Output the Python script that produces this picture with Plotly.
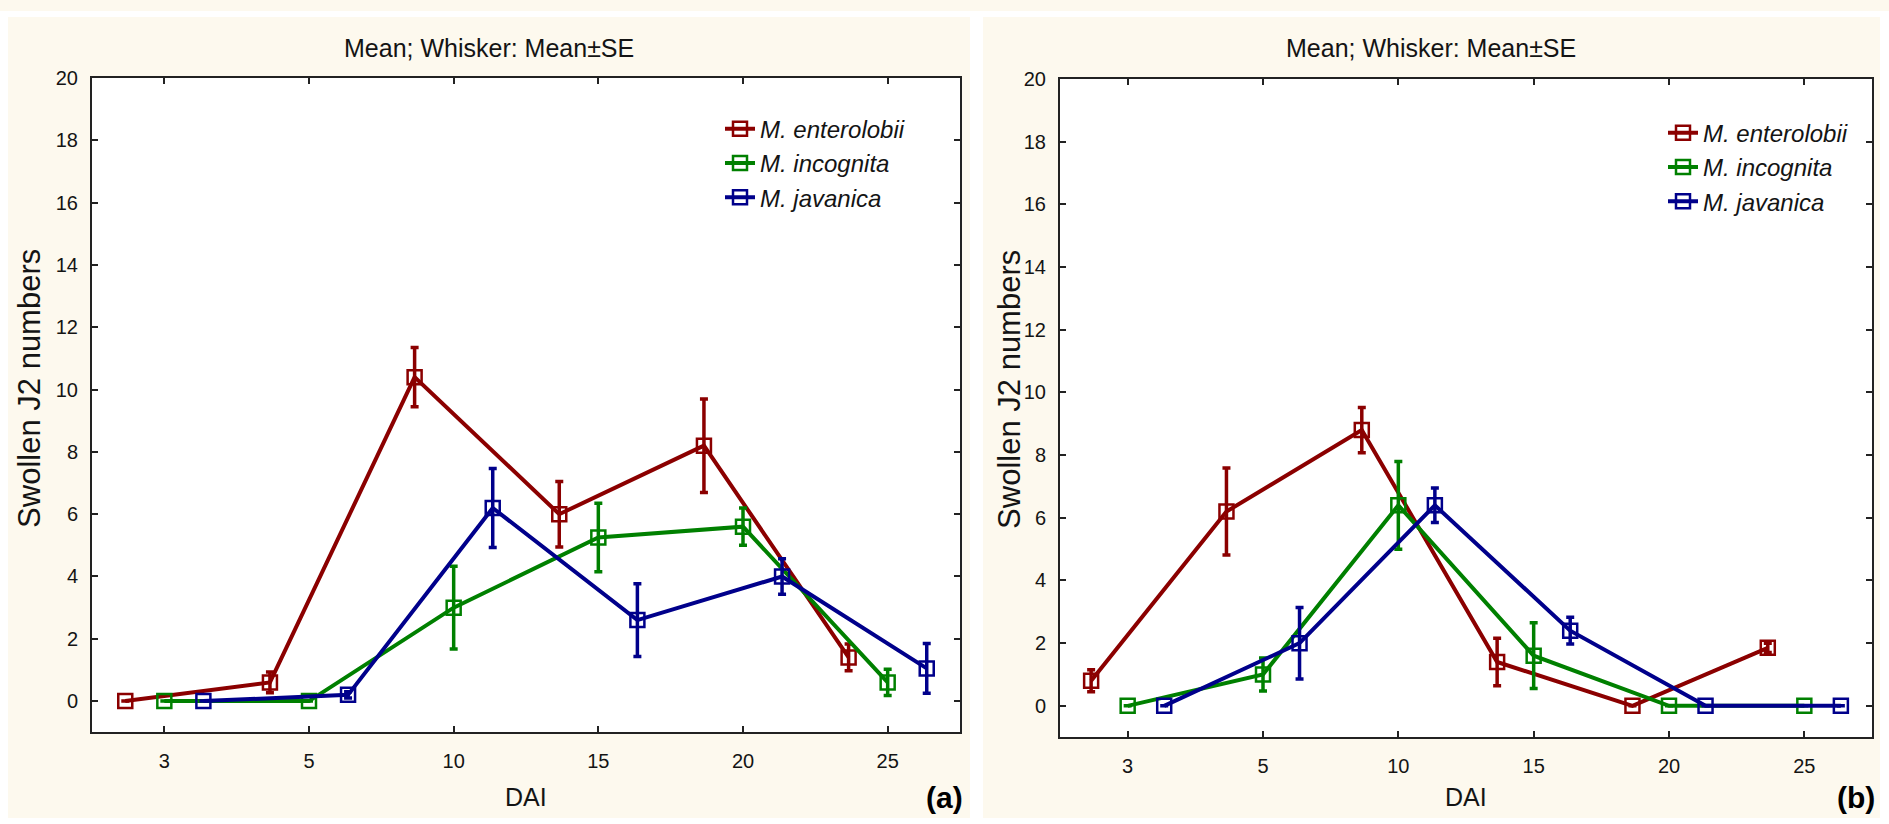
import plotly.graph_objects as go

# ---------------- data ----------------
dai_labels = ["3", "5", "10", "15", "20", "25"]
species = ["M. enterolobii", "M. incognita", "M. javanica"]
colors = ["#8b0000", "#008000", "#00008b"]

# panel (a)
a_enterolobii = [0.0, 0.6, 10.4, 6.0, 8.2, 1.4]
a_enterolobii_se = [0.0, 0.33, 0.95, 1.05, 1.5, 0.43]
a_incognita = [0.0, 0.0, 3.0, 5.25, 5.6, 0.6]
a_incognita_se = [0.0, 0.0, 1.33, 1.1, 0.6, 0.42]
a_javanica = [0.0, 0.2, 6.2, 2.6, 4.0, 1.05]
a_javanica_se = [0.0, 0.1, 1.27, 1.17, 0.57, 0.8]

# panel (b)
b_enterolobii = [0.8, 6.2, 8.8, 1.4, 0.0, 1.85]
b_enterolobii_se = [0.35, 1.39, 0.72, 0.76, 0.0, 0.15]
b_incognita = [0.0, 1.0, 6.4, 1.6, 0.0, 0.0]
b_incognita_se = [0.0, 0.53, 1.4, 1.05, 0.0, 0.0]
b_javanica = [0.0, 2.0, 6.4, 2.4, 0.0, 0.0]
b_javanica_se = [0.0, 1.14, 0.55, 0.43, 0.0, 0.0]

y_ticks = list(range(0, 21, 2))
title_text = "Mean; Whisker: Mean±SE"

# ---------------- layout helpers ----------------
W, H = 1889, 824
def fx(p):
    return p / W
def fy(p):
    return 1 - p / H

FONT = "Liberation Sans, Arial, sans-serif"
TXT = "#141414"
CREAM = "#fdf9ee"
group_offsets = [-0.27, 0.0, 0.27]

fig = go.Figure()

panels = [
    ("x", "y", "legend", [a_enterolobii, a_incognita, a_javanica],
     [a_enterolobii_se, a_incognita_se, a_javanica_se]),
    ("x2", "y2", "legend2", [b_enterolobii, b_incognita, b_javanica],
     [b_enterolobii_se, b_incognita_se, b_javanica_se]),
]

for xa, ya, lg, vals, ses in panels:
    for k in range(3):
        xs = [i + group_offsets[k] for i in range(len(dai_labels))]
        fig.add_trace(go.Scatter(
            x=xs, y=vals[k], xaxis=xa, yaxis=ya, legend=lg,
            name="<i>%s</i>" % species[k],
            mode="lines+markers",
            line=dict(color=colors[k], width=4),
            marker=dict(symbol="square-open", size=14, color=colors[k],
                        line=dict(width=2.5, color=colors[k])),
            error_y=dict(type="data", array=ses[k], visible=True,
                         color=colors[k], thickness=3.5, width=4),
        ))

axis_common = dict(
    showline=True, mirror="ticks", linecolor="#222222", linewidth=2,
    ticks="inside", ticklen=6, tickwidth=1.5, tickcolor="#222222",
    showgrid=False, zeroline=False,
    tickfont=dict(family=FONT, size=20, color=TXT),
)

pa = dict(x0=92, x1=960, y0=68, y1=731)
pb = dict(x0=1060, x1=1872, y0=69, y1=736)

def xaxis(p, anchor):
    return dict(axis_common, domain=[fx(p["x0"]), fx(p["x1"])], anchor=anchor,
                range=[-0.5, 5.5], tickmode="array",
                tickvals=list(range(len(dai_labels))), ticktext=dai_labels,
                ticklabelstandoff=10)

def yaxis(p, anchor):
    return dict(axis_common, domain=[fy(p["y1"]), fy(p["y0"])], anchor=anchor,
                range=[-1, 20], tickmode="array", tickvals=y_ticks,
                ticklabelstandoff=8)

shapes = []
# white gaps around cream panels
for (x0, x1, y0, y1) in [(0, 8, 0, H), (0, W, 0, 6), (970, 983, 0, H),
                         (1880, W, 0, H), (0, W, 818, H)]:
    shapes.append(dict(type="rect", xref="paper", yref="paper",
                       x0=fx(x0), x1=fx(x1), y0=fy(y1), y1=fy(y0),
                       fillcolor="white", line=dict(width=0), layer="below"))

annotations = []
for cx, p, lab, ytx in [(489, pa, "(a)", 30), (1431, pb, "(b)", 1010)]:
    annotations.append(dict(text=title_text, x=fx(cx), y=fy(38), xref="paper", yref="paper",
                            showarrow=False, xanchor="center", yanchor="middle",
                            font=dict(family=FONT, size=25, color=TXT)))
    annotations.append(dict(text="DAI", x=fx((p["x0"] + p["x1"]) / 2), y=fy(797),
                            xref="paper", yref="paper", showarrow=False,
                            xanchor="center", yanchor="middle",
                            font=dict(family=FONT, size=25, color=TXT)))
    annotations.append(dict(text="Swollen J2 numbers", x=fx(ytx), y=fy(383),
                            xref="paper", yref="paper", showarrow=False, textangle=-90,
                            xanchor="center", yanchor="middle",
                            font=dict(family=FONT, size=31, color=TXT)))
    annotations.append(dict(text="<b>%s</b>" % lab, x=fx(p["x1"] + 5), y=fy(797),
                            xref="paper", yref="paper", showarrow=False,
                            xanchor="right", yanchor="middle",
                            font=dict(family=FONT, size=30, color="#000000")))

legend_common = dict(xanchor="left", yanchor="top", bgcolor="rgba(0,0,0,0)",
                     borderwidth=0, itemwidth=30, tracegroupgap=0,
                     font=dict(family=FONT, size=24, color=TXT))

fig.update_layout(
    width=W, height=H, margin=dict(l=0, r=0, t=0, b=0, pad=0),
    paper_bgcolor=CREAM, plot_bgcolor="white",
    xaxis=xaxis(pa, "y"), yaxis=yaxis(pa, "x"),
    xaxis2=xaxis(pb, "y2"), yaxis2=yaxis(pb, "x2"),
    legend=dict(legend_common, x=fx(720), y=fy(97)),
    legend2=dict(legend_common, x=fx(1663), y=fy(101)),
    shapes=shapes, annotations=annotations,
    showlegend=True,
)

fig.write_html("out.html")
